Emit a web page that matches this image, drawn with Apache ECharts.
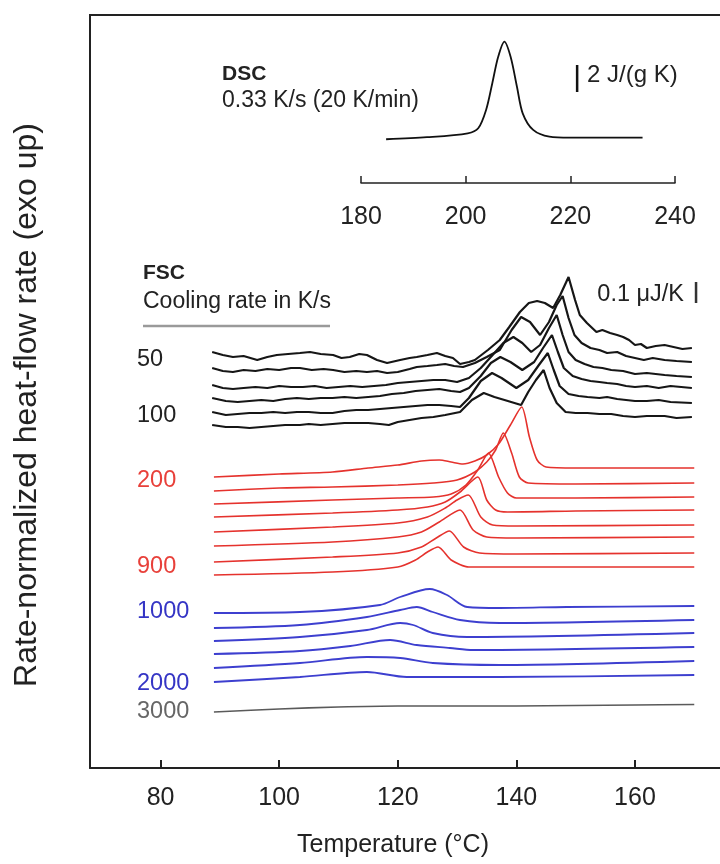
<!DOCTYPE html>
<html>
<head>
<meta charset="utf-8">
<script src="https://cdn.jsdelivr.net/npm/echarts@6/dist/echarts.min.js"></script>
<style>
html,body{margin:0;padding:0;background:#fff;}
#chart{width:720px;height:864px;}
</style>
</head>
<body>
<div id="chart"></div>
<script>
// ---------- tick labels ----------
const mainTicks = [80, 100, 120, 140, 160];
const dscTicks = [180, 200, 220, 240];

// ---------- DSC inset (T in °C, J/(g K), arbitrary zero) ----------
const dscCurve = [[184.8,3.24],[192.6,3.39],[200.4,3.68],[202.4,4.05],[203.9,5.41],[205.1,7.41],[206.2,9.33],[207.4,10.47],[208.6,9.33],[209.8,7.13],[210.9,5.16],[212.9,3.93],[216,3.43],[219.9,3.36],[233.8,3.36]];
const dscBar = [[221.3,6.74],[221.3,8.74]];

// ---------- FSC curves (T in °C, offset heat-flow, arb. units) ----------
const black50 = [[88.7,416],[90.5,413],[92.2,411],[94,412],[96.3,408],[98,411],[99.6,413],[101.5,414],[103.5,415],[105.2,416],[107,414],[109.1,413],[110.5,410],[111.9,411],[113.5,414],[114.8,413],[116.5,408],[118.2,405],[120.4,408],[122,410],[123.2,411],[125,413],[126.6,415],[128,412],[129.3,410],[130.5,404],[132,406],[133,408],[135.2,418],[137.2,428],[138.8,441],[140.6,456],[142.1,465],[143.5,467],[144.8,465],[146.2,460],[147.4,473],[148.8,491],[149.9,468],[150.7,453],[151.9,445],[153.5,436],[154.5,438],[155.8,435],[157,433],[158,431],[159,428],[160,423],[161,424],[162,420],[163.5,422],[165,423],[166.5,421],[168,419],[169.6,420]];
const black60 = [[88.7,400],[90.5,397],[92.2,396],[94,398],[96,397],[98,399],[100,398],[102,400],[103.5,400],[105.5,398],[107.5,399],[109.1,398],[111,396],[113,397],[114.8,396],[116.5,397],[118.2,395],[120,396],[122,399],[123.2,401],[125,402],[126.6,403],[128,404],[129.5,402],[131,401],[133,405],[135,411],[137.2,418],[139.2,438],[140.8,451],[142.3,446],[144,433],[145.5,446],[146.8,463],[147.8,472],[148.8,450],[149.8,433],[151,425],[152.5,420],[154,418],[155.3,415],[157,416],[158.5,412],[160,410],[161.5,408],[163,410],[165,408],[167,407],[169.6,406]];
const black70 = [[88.7,383],[90.5,380],[92.2,379],[94,380],[96,381],[98,380],[100,382],[102,381],[104,381],[106,382],[108,380],[110,381],[112,382],[114,381],[116,382],[118,383],[120,385],[122,386],[124,387],[126,388],[128,388],[130,386],[132,390],[134,400],[136,413],[137.8,425],[139.5,431],[141,425],[142.5,416],[144,423],[145.5,440],[146.8,453],[147.8,433],[148.8,416],[150,408],[151.5,404],[153,401],[154.5,400],[156,398],[158,397],[160,394],[162,395],[165,393],[167,392],[169.6,391]];
const black80 = [[88.7,370],[91,367],[93,366],[95,367],[97,368],[99,367],[101,369],[103,370],[105,369],[107,370],[109,370],[111,371],[113,370],[115,371],[117,372],[119,374],[121,375],[123,377],[125,378],[127,379],[129,377],[130.5,376],[132,380],[134,392],[135.7,405],[137.3,411],[139,406],[141,398],[143,406],[144.5,420],[146,433],[147,416],[148,400],[149.5,392],[151,389],[152.5,387],[154,386],[155.3,385],[157,384],[158.5,382],[160,381],[162,382],[164,380],[166,382],[169.6,380]];
const black90 = [[88.7,356],[91,353],[93,354],[95,355],[97,355],[99,356],[101,355],[103,356],[105,356],[107,355],[109,355],[111,357],[113,358],[115,358],[117,359],[119,360],[121,361],[123,362],[125,363],[127,363],[129,362],[130.5,361],[132,370],[134,387],[135.9,395],[137.5,390],[140,380],[142,388],[143.8,403],[145.3,415],[146.3,398],[147.3,382],[148.8,374],[150.5,372],[152,371],[154,370],[155.3,371],[157,369],[158.5,368],[160,367],[162,367],[164,368],[166,366],[169.6,365]];
const black100 = [[88.7,343],[91,341],[93,341],[95,340],[97,341],[99,342],[101,343],[103.5,343],[105,344],[107,343],[109,344],[111,345],[113,345],[115,345],[117,344],[118.5,343],[120,346],[122,348],[124,350],[126,351],[128,353],[130.5,356],[132.5,368],[134.5,375],[136.3,371],[138,368],[140.8,363],[142,376],[143.3,388],[144.6,398],[145.6,380],[146.8,365],[148.3,356],[150,355],[152,355],[154,354],[156,354],[158,352],[160,351],[162,352],[165,352],[167,350],[169.6,351]];

const red200 = [[89,291],[100,294],[109,296],[115,300],[120,303],[124,307],[127,308],[129,306],[131,304],[133,307],[135,313],[137,324],[139,343],[140.9,361],[142.2,331],[143.5,308],[145,301],[150,300],[160,300],[170,300]];
const red300 = [[89,277],[100,280],[109,281],[120,283],[126,285],[130,288],[133,296],[135,306],[136.5,318],[137.8,335],[139.2,315],[140.5,291],[142,285],[150,284],[170,285]];
const red400 = [[89,264],[109,268],[120,270],[126,271],[129,274],[131.5,283],[133.5,298],[135.3,315],[137,291],[138.5,275],[140,270],[150,270],[170,271]];
const red500 = [[89,251],[109,255],[120,258],[125,261],[128,266],[130.5,276],[133.5,291],[135,268],[136.5,258],[138.5,256],[150,257],[170,258]];
const red600 = [[89,236],[109,241],[120,245],[125,251],[128,260],[130,268],[131.9,273],[134,251],[136,243],[140,242],[170,243]];
const red700 = [[89,222],[109,226],[120,231],[124,236],[127,246],[130.5,258],[132.7,238],[135,231],[140,230],[170,231]];
const red800 = [[89,206],[109,211],[120,215],[124,221],[126.5,230],[128.7,237],[131.1,221],[133.8,215],[140,214],[170,215]];
const red900 = [[89,193],[109,196],[120,201],[123,208],[125,216],[126.8,221],[129,208],[132,201],[140,201],[170,201]];

const blue1000 = [[89,155],[103.5,156],[117,163],[120.4,171],[125.4,179],[128.3,173],[131.7,161],[137.2,160],[148.5,161],[170,162]];
const blue1200 = [[89,140],[103.5,143],[114.8,151],[120.4,158],[123.2,161],[125.9,156],[130.5,148],[137.2,145],[170,148]];
const blue1400 = [[89,127],[103.5,131],[114.8,138],[120.4,145],[122.6,143],[125.9,135],[131.7,131],[170,135]];
const blue1600 = [[89,114],[103.5,117],[112,122],[118.7,128],[123.2,123],[128.8,120],[132.7,118],[170,121]];
const blue1800 = [[89,100],[103.5,105],[114.8,111],[120.4,110],[125.9,105],[137.2,103],[170,107]];
const blue2000 = [[89,86],[103.5,91],[114.8,96],[121.5,91],[137.2,91],[170,93]];

const gray3000 = [[89,56],[100,59],[110,61],[120,62],[130,62],[140,62],[150,62.5],[160,63],[170,63.5]];
const fscBar = [[170.3,465],[170.3,486]];

// ---------- styling ----------
const FONT = '"Liberation Sans", Arial, sans-serif';
const BLACK = '#161616', RED = '#e5322d', BLUE = '#3d3fcf', GRAY = '#5a5a5a';

function curve(data, color, width, smooth) {
  return { type: 'line', data: data, xAxisIndex: 0, yAxisIndex: 0, showSymbol: false, smooth: smooth,
    lineStyle: { color: color, width: width }, silent: true, z: 3 };
}

const series = [];
[black50, black60, black70, black80, black90, black100].forEach(d => series.push(curve(d, BLACK, 2.2, false)));
[red200, red300, red400, red500, red600, red700, red800, red900].forEach(d => series.push(curve(d, RED, 1.6, 0.25)));
[blue1000, blue1200, blue1400, blue1600, blue1800, blue2000].forEach(d => series.push(curve(d, BLUE, 1.8, 0.3)));
series.push(curve(gray3000, GRAY, 1.6, 0.3));
series.push(curve(fscBar, '#333', 2.5, false));
series.push({ type: 'line', data: dscCurve, xAxisIndex: 1, yAxisIndex: 1, showSymbol: false, smooth: 0.3,
  lineStyle: { color: '#111', width: 1.8 }, silent: true });
series.push({ type: 'line', data: dscBar, xAxisIndex: 1, yAxisIndex: 1, showSymbol: false,
  lineStyle: { color: '#111', width: 2.5 }, silent: true });

function txt(text, x, y, size, color, opts) {
  opts = opts || {};
  return { type: 'text', x: x, y: y, rotation: opts.rot || 0, silent: true,
    style: { text: text, x: 0, y: 0, fill: color,
      font: (opts.bold ? 'bold ' : '') + size + 'px ' + FONT,
      align: opts.align || 'left', verticalAlign: 'middle' } };
}

const chart = echarts.init(document.getElementById('chart'), null, { renderer: 'canvas' });
chart.setOption({
  animation: false,
  backgroundColor: '#fff',
  grid: [
    { left: 90, top: 15, width: 630, height: 753 },
    { left: 361, top: 30, width: 314, height: 153 }
  ],
  xAxis: [
    { type: 'value', gridIndex: 0, min: 68.1, max: 174.34,
      axisLine: { lineStyle: { color: '#222', width: 2 } },
      axisTick: { inside: true, length: 8, lineStyle: { color: '#222', width: 2 }, customValues: mainTicks },
      axisLabel: { customValues: mainTicks, fontSize: 25, color: '#222', fontFamily: FONT, margin: 18 },
      splitLine: { show: false } },
    { type: 'value', gridIndex: 1, min: 180, max: 240, interval: 20,
      axisLine: { lineStyle: { color: '#222', width: 1.5 } },
      axisTick: { inside: true, length: 7, lineStyle: { color: '#222', width: 1.5 }, customValues: dscTicks },
      axisLabel: { customValues: dscTicks, fontSize: 25, color: '#222', fontFamily: FONT, margin: 22 },
      splitLine: { show: false } }
  ],
  yAxis: [
    { type: 'value', gridIndex: 0, min: 0, max: 753, show: true,
      axisLine: { show: true, lineStyle: { color: '#222', width: 2 } },
      axisTick: { show: false }, axisLabel: { show: false }, splitLine: { show: false } },
    { type: 'value', gridIndex: 1, min: 0, max: 11.33, show: false }
  ],
  series: series,
  graphic: [
    { type: 'line', silent: true, shape: { x1: 89, y1: 15, x2: 720, y2: 15 }, style: { stroke: '#222', lineWidth: 2 } },
    txt('Rate-normalized heat-flow rate (exo up)', 27, 405, 32, '#222', { rot: Math.PI / 2, align: 'center' }),
    txt('Temperature (°C)', 393, 845, 25, '#222', { align: 'center' }),
    txt('DSC', 222, 74, 21, '#222', { bold: true }),
    txt('0.33 K/s (20 K/min)', 222, 101, 23, '#222'),
    txt('2 J/(g K)', 587, 75, 24, '#222'),
    txt('FSC', 143, 273, 21, '#222', { bold: true }),
    txt('Cooling rate in K/s', 143, 302, 23, '#222'),
    { type: 'line', silent: true, shape: { x1: 143, y1: 326, x2: 330, y2: 326 }, style: { stroke: '#9a9a9a', lineWidth: 2.5 } },
    txt('0.1 μJ/K', 684, 295, 23.5, '#222', { align: 'right' }),
    txt('50', 137, 360, 23.5, '#222'),
    txt('100', 137, 416, 23.5, '#222'),
    txt('200', 137, 481, 23.5, '#e8403a'),
    txt('900', 137, 567, 23.5, '#e8403a'),
    txt('1000', 137, 612, 23.5, '#3535c5'),
    txt('2000', 137, 684, 23.5, '#3535c5'),
    txt('3000', 137, 712, 23.5, '#666')
  ]
});
</script>
</body>
</html>
